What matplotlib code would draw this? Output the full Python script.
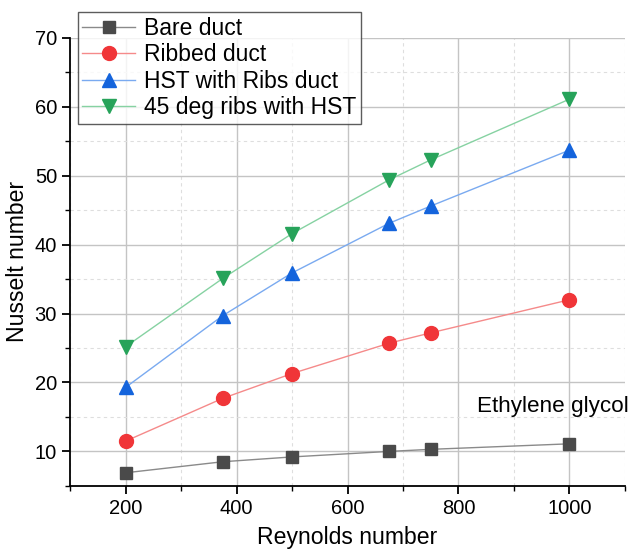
import numpy as np
from matplotlib import pyplot as plt
from matplotlib.ticker import MultipleLocator

plt.rcParams['font.family'] = ['Liberation Sans', 'DejaVu Sans']

reynolds = [200, 375, 500, 675, 750, 1000]
bare_duct = [6.9, 8.5, 9.2, 10.0, 10.3, 11.1]
ribbed_duct = [11.5, 17.7, 21.3, 25.7, 27.2, 32.0]
hst_ribs = [19.3, 29.7, 35.9, 43.1, 45.6, 53.7]
ribs45_hst = [25.2, 35.1, 41.6, 49.4, 52.3, 61.1]

series = [
    ("Bare duct", bare_duct, "s", "#4a4a4a", "#8a8a8a"),
    ("Ribbed duct", ribbed_duct, "o", "#f03538", "#f58a8a"),
    ("HST with Ribs duct", hst_ribs, "^", "#1464dc", "#7aaaf0"),
    ("45 deg ribs with HST", ribs45_hst, "v", "#27a35a", "#86d2a2"),
]

fig = plt.figure(figsize=(6.33, 5.49), dpi=100)
ax = fig.add_axes([0.111, 0.115, 0.876, 0.816])

for name, vals, mk, mcol, lcol in series:
    ax.plot(reynolds, vals, color=lcol, lw=1.0, marker=mk, ms=10 if mk != "s" else 8.5,
            mfc=mcol, mec=mcol, label=name, zorder=3)

ax.set_xlim(100, 1100)
ax.set_ylim(5, 70)
ax.xaxis.set_major_locator(MultipleLocator(200))
ax.xaxis.set_minor_locator(MultipleLocator(100))
ax.yaxis.set_major_locator(MultipleLocator(10))
ax.yaxis.set_minor_locator(MultipleLocator(5))

ax.grid(which='major', color='#c4c4c4', lw=1.0, ls='-')
ax.grid(which='minor', color='#dedede', lw=0.8, ls=(0, (3, 3)))
ax.set_axisbelow(True)

for s in ['top', 'right']:
    ax.spines[s].set_visible(False)
for s in ['left', 'bottom']:
    ax.spines[s].set_linewidth(1.3)

ax.tick_params(which='major', direction='out', length=6, width=1.3, labelsize=14.5)
ax.tick_params(which='minor', direction='out', length=3.5, width=1.0)

ax.set_xlabel("Reynolds number", fontsize=16.6, labelpad=6)
ax.set_ylabel("Nusselt number", fontsize=16.6)

ax.text(833, 16.5, "Ethylene glycol", fontsize=16.2, va='center', ha='left')

leg = ax.legend(loc='upper left', bbox_to_anchor=(0.123, 0.978), bbox_transform=fig.transFigure,
                fontsize=16.5, frameon=True, fancybox=False, edgecolor='#333333',
                borderpad=0.2, labelspacing=0.15, handlelength=2.3, handletextpad=0.4,
                borderaxespad=0)
leg.get_frame().set_linewidth(1.0)

fig.savefig("out.png", dpi=100)
